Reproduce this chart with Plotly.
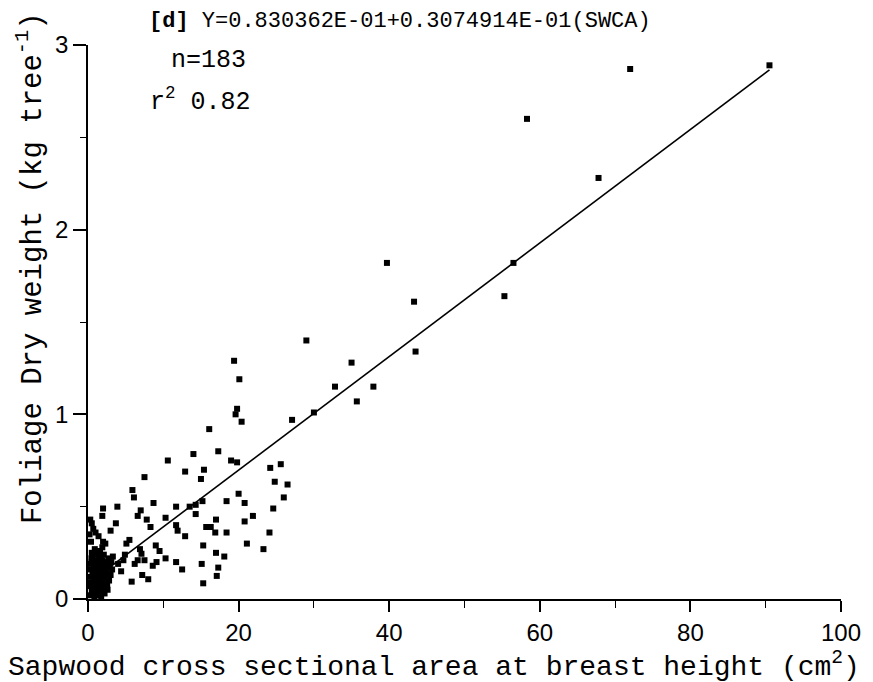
import plotly.graph_objects as go

# Regression coefficients (from the chart's equation)
intercept = 0.0830362
slope = 0.03074914

# Sapwood cross sectional area (cm2) and foliage dry weight (kg/tree)
swca = [
    90.5, 72.0, 58.3, 67.8, 39.7, 56.5, 43.3, 55.3, 29.0, 43.5,
    19.4, 35.0, 20.1, 32.8, 37.9, 35.7, 19.8, 19.6, 20.4, 16.1,
    27.1, 30.0,
    14.0, 17.3, 10.6, 19.0, 19.8, 12.9, 15.4, 15.0, 7.5, 24.2,
    25.6, 24.8, 26.5, 26.0, 24.6, 24.1, 23.3, 21.1, 20.0, 20.8,
    21.9, 20.8, 18.4, 17.0, 18.4, 16.9, 15.7, 16.3, 15.2, 14.3,
    13.5, 14.3, 11.7, 10.3, 11.7, 11.9, 12.9, 8.7, 7.0, 6.6,
    7.8, 8.3, 5.9, 6.1, 3.9, 2.0, 1.9, 3.7, 3.0, 5.5,
    5.1, 6.9, 7.1, 6.6, 6.2, 7.5, 9.0, 9.5, 10.3, 9.1,
    8.6, 11.7, 12.5, 15.3, 17.0, 18.1, 15.1, 17.3, 17.1, 15.3,
    7.2, 8.0, 5.8, 4.4, 4.9, 3.3, 4.7, 4.0, 1.9,
    0.3, 0.5, 0.7, 1.0, 1.4, 2.0, 2.3, 0.9, 0.5, 1.6, 0.2, 0.4,
    0.3, 0.5, 0.8, 1.1, 1.4, 1.8, 2.2, 2.6, 0.4, 0.7,
    1.0, 1.3, 1.6, 1.9, 2.3, 2.8, 0.3, 0.6, 0.9, 1.2,
    1.5, 1.8, 2.1, 2.5, 3.0, 0.4, 0.8, 1.1, 1.4, 1.7,
    2.0, 2.4, 2.9, 0.5, 0.9, 1.2, 1.5, 1.9, 2.2, 2.7,
    0.6, 1.0, 1.3, 1.7, 2.1, 0.2, 0.35, 1.65, 2.05, 2.45,
    0.65, 1.25, 1.55, 1.95, 2.35, 2.65, 3.1, 0.75, 1.05, 1.85,
    0.45, 1.15, 1.45, 2.55, 0.85, 1.75, 2.15, 0.95, 1.35, 3.2,
]
foliage = [
    2.89, 2.87, 2.60, 2.28, 1.82, 1.82, 1.61, 1.64, 1.40, 1.34,
    1.29, 1.28, 1.19, 1.15, 1.15, 1.07, 1.03, 1.00, 0.96, 0.92,
    0.97, 1.01,
    0.785, 0.80, 0.75, 0.75, 0.74, 0.69, 0.70, 0.65, 0.66, 0.71,
    0.73, 0.635, 0.62, 0.55, 0.49, 0.36, 0.27, 0.30, 0.57, 0.52,
    0.45, 0.42, 0.53, 0.43, 0.36, 0.36, 0.39, 0.39, 0.53, 0.46,
    0.50, 0.51, 0.50, 0.44, 0.40, 0.37, 0.34, 0.52, 0.48, 0.45,
    0.43, 0.39, 0.59, 0.55, 0.50, 0.49, 0.45, 0.41, 0.37, 0.32,
    0.30, 0.27, 0.245, 0.21, 0.19, 0.21, 0.29, 0.26, 0.22, 0.20,
    0.18, 0.20, 0.16, 0.29, 0.25, 0.23, 0.19, 0.17, 0.125, 0.085,
    0.13, 0.107, 0.094, 0.15, 0.24, 0.23, 0.21, 0.19, 0.28,
    0.43, 0.41, 0.38, 0.36, 0.34, 0.31, 0.30, 0.27, 0.25, 0.26, 0.35, 0.31,
    0.02, 0.04, 0.03, 0.05, 0.02, 0.04, 0.03, 0.05, 0.07, 0.09,
    0.08, 0.10, 0.07, 0.09, 0.08, 0.10, 0.12, 0.13, 0.11, 0.14,
    0.12, 0.13, 0.12, 0.14, 0.13, 0.16, 0.17, 0.16, 0.18, 0.16,
    0.17, 0.18, 0.17, 0.20, 0.21, 0.20, 0.22, 0.21, 0.20, 0.22,
    0.23, 0.24, 0.25, 0.23, 0.24, 0.19, 0.09, 0.10, 0.06, 0.11,
    0.06, 0.07, 0.15, 0.15, 0.16, 0.19, 0.20, 0.14, 0.19, 0.19,
    0.22, 0.11, 0.05, 0.08, 0.01, 0.01, 0.15, 0.05, 0.13, 0.16,
]

line_x = [0.3, 90.5]
line_y = [intercept + slope * v for v in line_x]

x_ticks = [0, 20, 40, 60, 80, 100]
y_ticks = [0, 1, 2, 3]

mono = "Liberation Mono, DejaVu Sans Mono, monospace"
sans = "Liberation Sans Narrow, Liberation Sans, Arial, sans-serif"

fig = go.Figure()
fig.add_trace(go.Scatter(
    x=line_x, y=line_y, mode="lines",
    line=dict(color="black", width=1.6), showlegend=False, hoverinfo="skip",
))
fig.add_trace(go.Scatter(
    x=swca, y=foliage, mode="markers",
    marker=dict(symbol="square", size=6, color="black"),
    showlegend=False, cliponaxis=False,
))

fig.update_layout(
    width=865, height=674,
    margin=dict(l=80, r=25, t=37, b=83),
    paper_bgcolor="white", plot_bgcolor="white",
    xaxis=dict(
        range=[0, 100], tickvals=x_ticks, ticktext=[str(v) for v in x_ticks],
        showgrid=False, zeroline=False, showline=True, linecolor="black", linewidth=1.6,
        ticks="outside", ticklen=11, tickwidth=1.5, tickcolor="black",
        minor=dict(dtick=10, ticks="outside", ticklen=7, tickwidth=1.3, tickcolor="black"),
        tickfont=dict(family=sans, size=24, color="black"),
    ),
    yaxis=dict(
        range=[0, 3], tickvals=y_ticks, ticktext=[str(v) for v in y_ticks],
        showgrid=False, zeroline=False, showline=True, linecolor="black", linewidth=1.6,
        ticks="outside", ticklen=13, tickwidth=1.5, tickcolor="black",
        minor=dict(dtick=0.5, ticks="outside", ticklen=6, tickwidth=1.3, tickcolor="black"),
        tickfont=dict(family=sans, size=24, color="black"),
    ),
)

fig.add_annotation(
    text="<b>[d]</b> Y=0.830362E-01+0.3074914E-01(SWCA)",
    xref="paper", yref="paper", x=0.079, y=1.043, xanchor="left", yanchor="middle",
    showarrow=False, font=dict(family=mono, size=22, color="black"),
)
fig.add_annotation(
    text="n=183", xref="paper", yref="paper", x=0.108, y=0.972,
    xanchor="left", yanchor="middle", showarrow=False,
    font=dict(family=mono, size=25, color="black"),
)
fig.add_annotation(
    text="r<sup>2</sup> 0.82", xref="paper", yref="paper", x=0.08, y=0.90,
    xanchor="left", yanchor="middle", showarrow=False,
    font=dict(family=mono, size=25, color="black"),
)
fig.add_annotation(
    text="Foliage Dry weight (kg tree<sup>-1</sup>)", xref="paper", yref="paper",
    x=-0.076, y=0.597, xanchor="center", yanchor="middle", textangle=-90,
    showarrow=False, font=dict(family=mono, size=29, color="black"),
)
fig.add_annotation(
    text="Sapwood cross sectional area at breast height (cm<sup>2</sup>)",
    xref="paper", yref="paper", x=0.459, y=-0.119, xanchor="center", yanchor="middle",
    showarrow=False, font=dict(family=mono, size=28, color="black"),
)

fig.write_html("out.html")
